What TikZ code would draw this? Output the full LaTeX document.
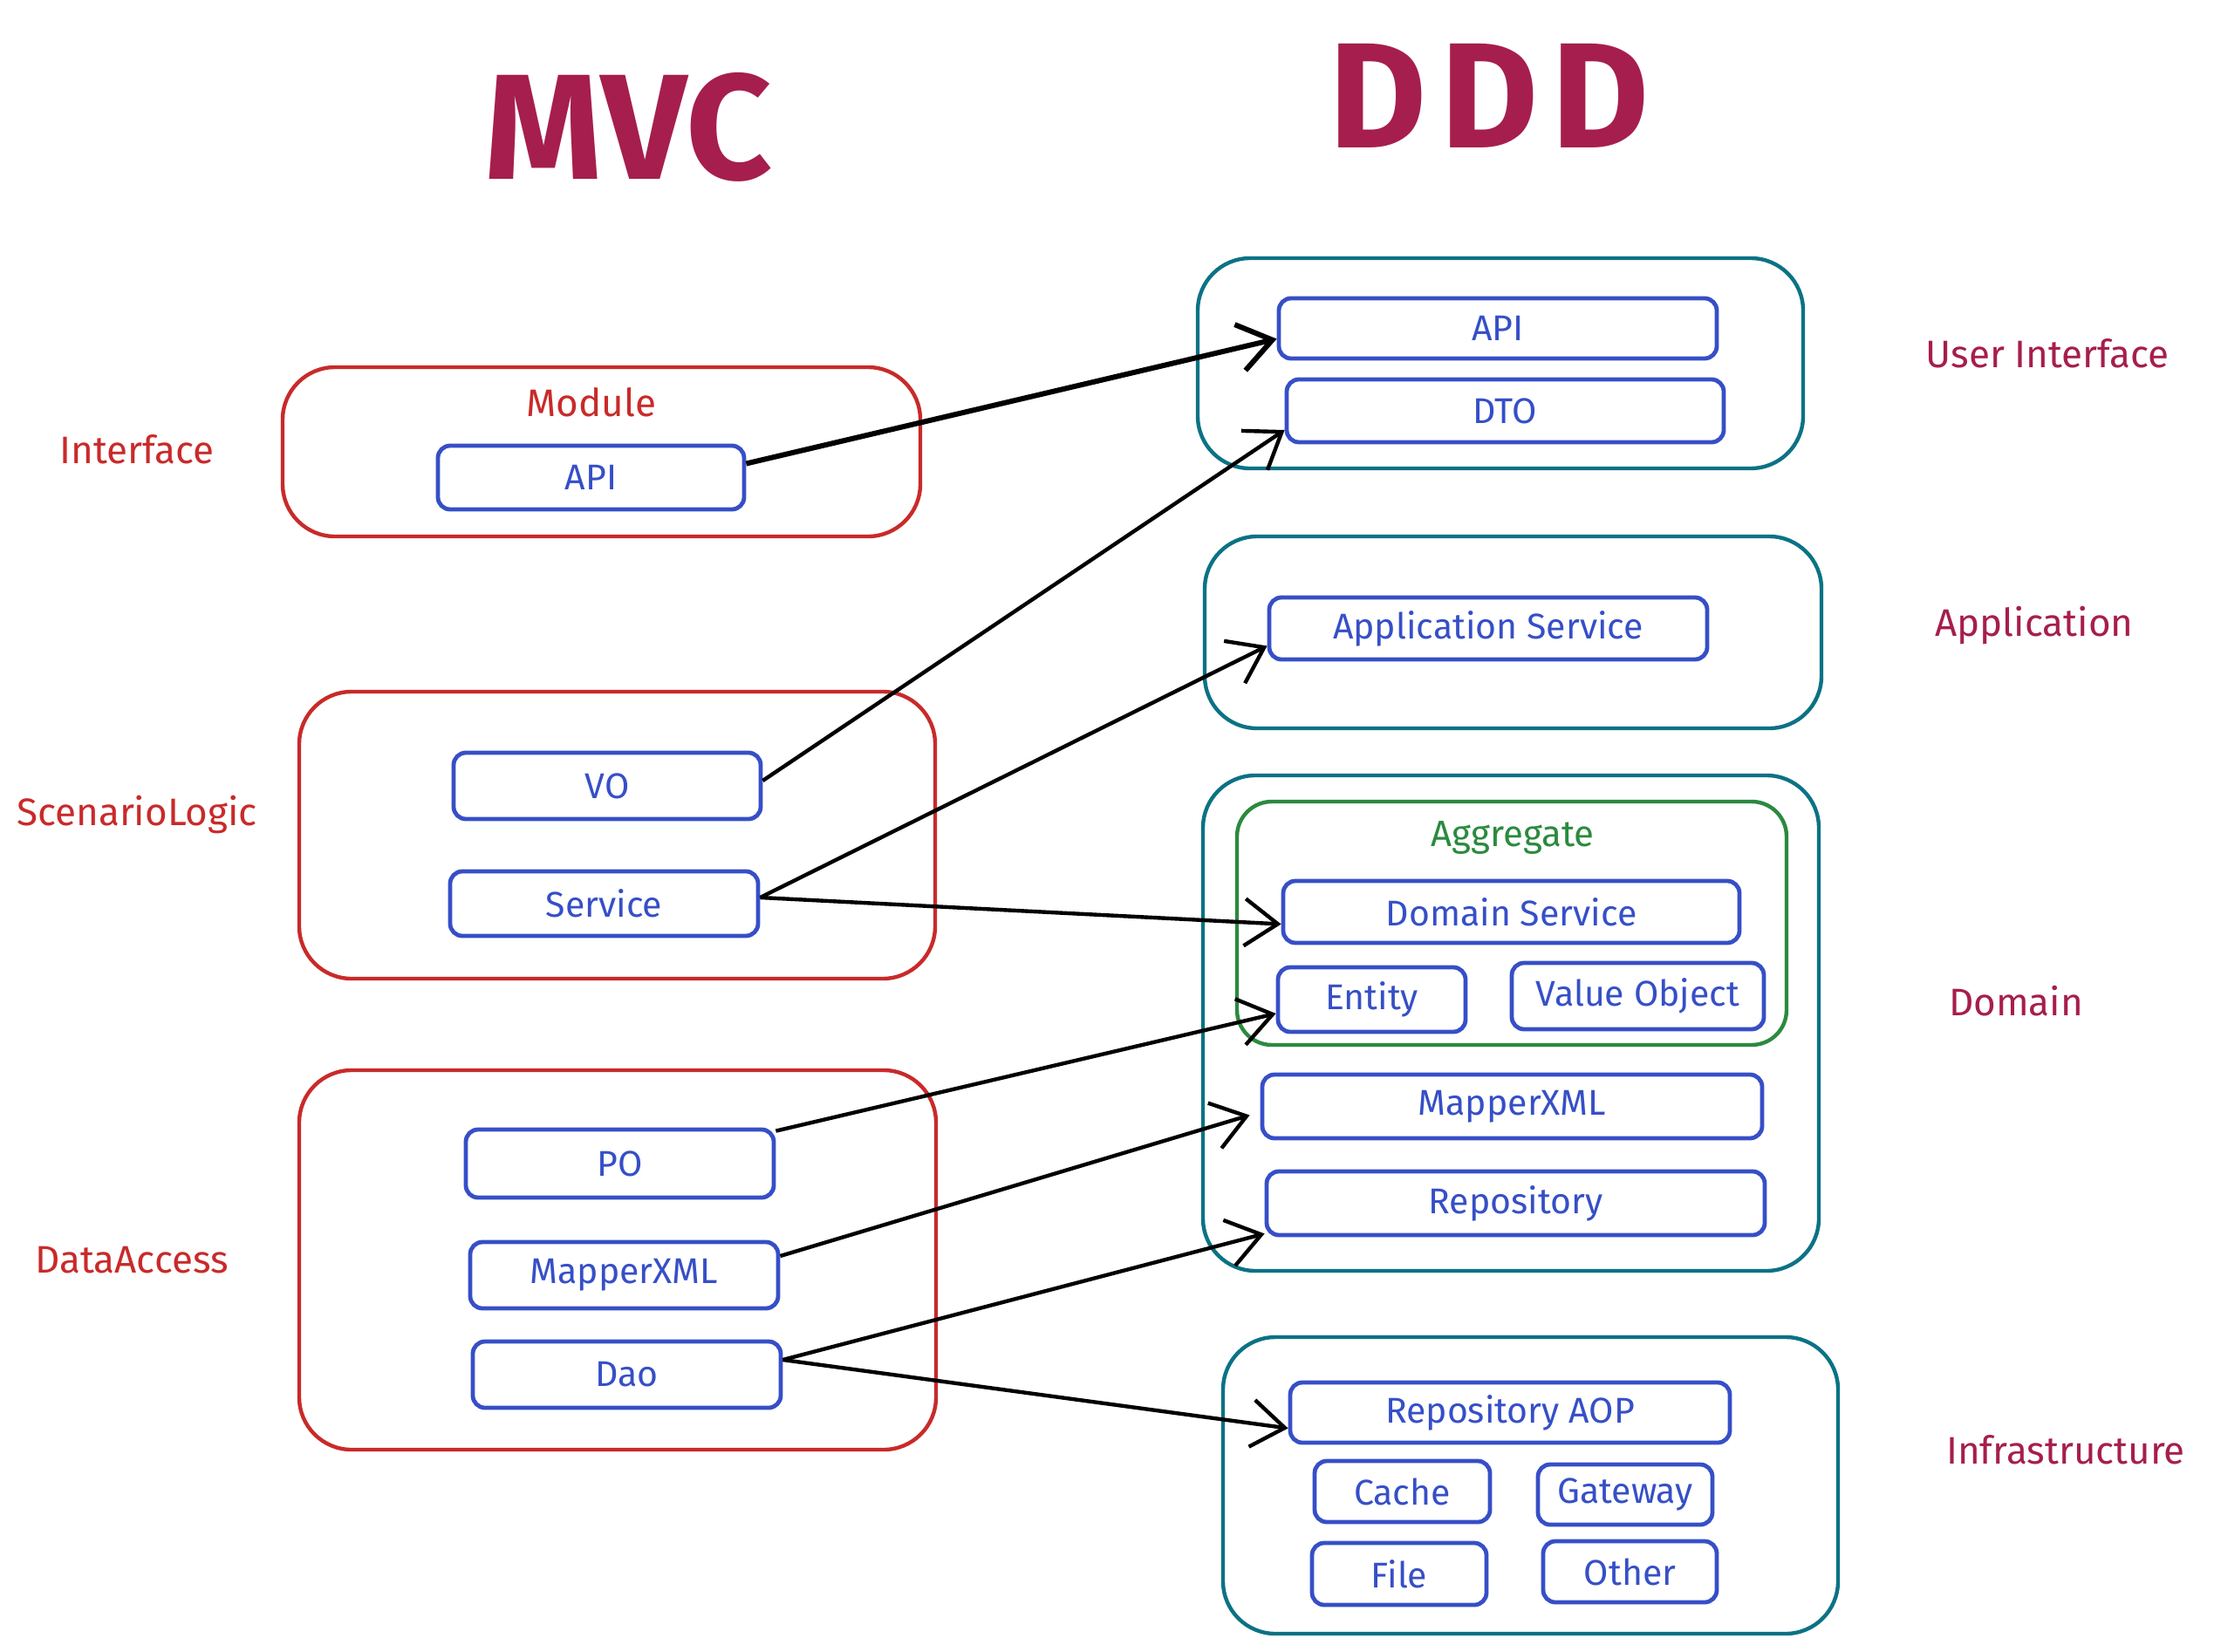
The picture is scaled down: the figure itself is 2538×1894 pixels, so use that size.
\documentclass[tikz,border=0pt]{standalone}
\usepackage{fontspec}
\setmainfont{Fira Sans}
\usetikzlibrary{arrows.meta}
\definecolor{mvcred}{HTML}{C92A2A}
\definecolor{partblue}{HTML}{364FC7}
\definecolor{layerteal}{HTML}{0B7285}
\definecolor{aggrgreen}{HTML}{2B8A3E}
\definecolor{titlered}{HTML}{A61E4D}
\tikzset{
  mvclayer/.style={draw=mvcred, line width=2.2pt, rounded corners=30pt},
  dddlayer/.style={draw=layerteal, line width=2.2pt, rounded corners=30pt},
  aggrbox/.style={draw=aggrgreen, line width=2.2pt, rounded corners=20pt},
  part/.style={draw=partblue, text=partblue, line width=2.4pt, rounded corners=7pt, inner sep=0pt, font=\fontsize{20.5}{24}\selectfont},
  mvcname/.style={text=mvcred, font=\fontsize{22}{26}\selectfont},
  dddname/.style={text=titlered, font=\fontsize{22}{26}\selectfont},
  bigtitle/.style={text=titlered, font=\fontsize{86}{90}\selectfont\bfseries},
  flow/.style={-{Straight Barb[length=19pt,width=27pt]}, line width=2.2pt, black},
}
\begin{document}
\begin{tikzpicture}[x=0.5pt,y=-0.5pt]
	\path[use as bounding box, fill=white] (0,0) rectangle (2538,1894);
	% titles
	\node[bigtitle] (tmvc) at (720,146) {MVC};
	\node[bigtitle] (tddd) at (1707,110) {D\kern8pt D\kern8pt D};
	% MVC side
	\node[mvclayer, minimum width=365.5pt, minimum height=97pt] (iface) at (689.5,518) {};
	\node[mvclayer, minimum width=364.5pt, minimum height=164.5pt] (scen) at (707.5,957.5) {};
	\node[mvclayer, minimum width=365pt, minimum height=217.5pt] (data) at (708,1444.5) {};
	\node[mvcname] (lmodule) at (678,461) {Module};
	\node[mvcname] (liface) at (157,515) {Interface};
	\node[mvcname] (lscen) at (157,934) {ScenarioLogic};
	\node[mvcname] (ldata) at (151,1445) {DataAccess};
	\node[part, minimum width=175.5pt, minimum height=36.5pt] (mapi) at (677.5,547.5) {API};
	\node[part, minimum width=176pt, minimum height=38pt] (vo) at (696,901) {VO};
	\node[part, minimum width=176.5pt, minimum height=37pt] (svc) at (692.5,1036) {Service};
	\node[part, minimum width=176.5pt, minimum height=39pt] (po) at (710.5,1334) {PO};
	\node[part, minimum width=176.5pt, minimum height=38pt] (mxml) at (715.5,1462) {MapperXML};
	\node[part, minimum width=176.5pt, minimum height=38pt] (dao) at (718.5,1576) {Dao};
	% DDD side
	\node[dddlayer, minimum width=347pt, minimum height=120.5pt] (ui) at (1720,416.5) {};
	\node[dddlayer, minimum width=353.5pt, minimum height=110pt] (app) at (1734.5,725) {};
	\node[dddlayer, minimum width=353pt, minimum height=284pt] (dom) at (1732,1173) {};
	\node[dddlayer, minimum width=352.5pt, minimum height=170pt] (infra) at (1754.5,1703) {};
	\node[aggrbox, minimum width=315pt, minimum height=139.5pt] (aggr) at (1733,1058.5) {};
	\node[text=aggrgreen, font=\fontsize{21}{25}\selectfont] (laggr) at (1734,960) {Aggregate};
	\node[dddname] (lui) at (2347,405) {User Interface};
	\node[dddname] (lapp) at (2332,717) {Application};
	\node[dddname] (ldom) at (2311,1148) {Domain};
	\node[dddname] (linfra) at (2368,1662) {Infrastructure};
	\node[part, minimum width=251pt, minimum height=34.5pt] (dapi) at (1717,376.5) {API};
	\node[part, minimum width=250.5pt, minimum height=36pt] (dto) at (1725.5,471) {DTO};
	\node[part, minimum width=251pt, minimum height=35.5pt] (appsvc) at (1706,720.5) {Application Service};
	\node[part, minimum width=261.5pt, minimum height=35.5pt] (domsvc) at (1732.5,1045.5) {Domain Service};
	\node[part, minimum width=107.5pt, minimum height=37pt] (entity) at (1572.5,1146) {Entity};
	\node[part, minimum width=144.5pt, minimum height=38pt] (vobj) at (1877.5,1142) {Value Object};
	\node[part, minimum width=286.5pt, minimum height=36.5pt] (dmxml) at (1733.5,1268.5) {MapperXML};
	\node[part, minimum width=285.5pt, minimum height=36.5pt] (repo) at (1737.5,1379.5) {Repository};
	\node[part, minimum width=252pt, minimum height=34.5pt] (raop) at (1731,1619.5) {Repository AOP};
	\node[part, minimum width=100.5pt, minimum height=35pt] (cache) at (1607.5,1710) {Cache};
	\node[part, minimum width=100pt, minimum height=34.5pt] (gway) at (1863,1713.5) {Gateway};
	\node[part, minimum width=100pt, minimum height=35.5pt] (file) at (1604,1804.5) {File};
	\node[part, minimum width=99.5pt, minimum height=35pt] (other) at (1868.5,1802) {Other};
	% mapping arrows
	\draw[flow, line width=3pt] ([yshift=8pt]mapi.east) -- ([yshift=-6pt]dapi.west);
	\draw[flow] ([yshift=3pt]vo.east) -- ([yshift=-11pt]dto.west);
	\draw[flow] ([yshift=3.5pt]svc.east) -- ([yshift=-10pt]appsvc.west);
	\draw[flow] ([yshift=3.5pt]svc.east) -- ([yshift=-7pt]domsvc.west);
	\draw[flow] ([yshift=-2pt]po.north east) -- ([yshift=-8pt]entity.west);
	\draw[flow] ([yshift=11pt]mxml.east) -- ([xshift=-6pt,yshift=-5pt]dmxml.west);
	\draw[flow] ([yshift=8.5pt]dao.east) -- ([yshift=2pt]repo.south west);
	\draw[flow] ([yshift=8.5pt]dao.east) -- ([yshift=-9pt]raop.west);
\end{tikzpicture}
\end{document}
